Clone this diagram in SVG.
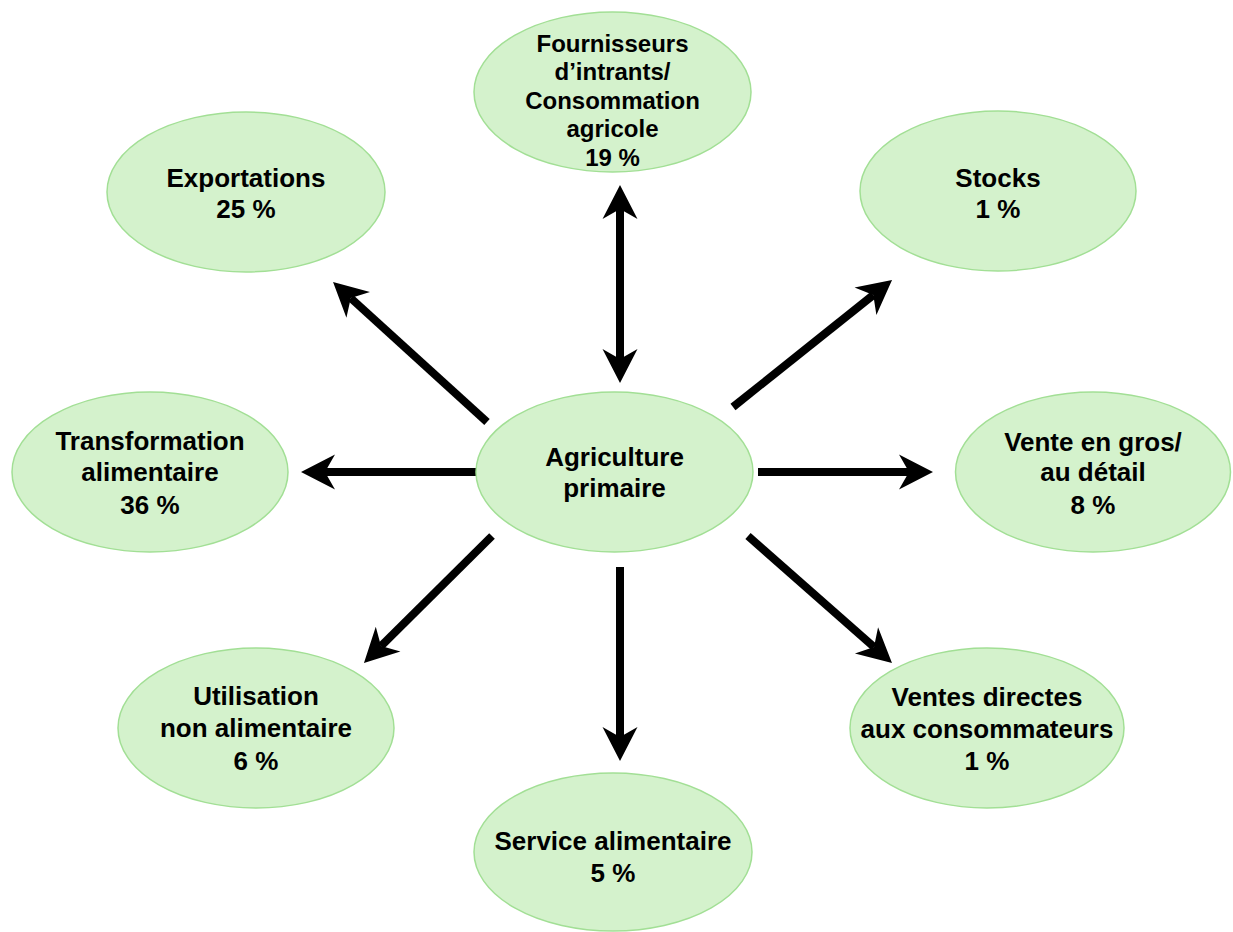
<svg xmlns="http://www.w3.org/2000/svg" width="1233" height="932" viewBox="0 0 1233 932">
<style>
.n{fill:#d4f2cc;stroke:#a2df95;stroke-width:1.5}
.t{font-family:"Liberation Sans",Arial,sans-serif;font-weight:bold;font-size:26px;fill:#000;text-anchor:middle}
.s{font-size:24px}
.c{stroke:#000;stroke-width:8;fill:none;marker-end:url(#ah)}
</style>
<defs>
<marker id="ah" markerUnits="userSpaceOnUse" orient="auto-start-reverse" refX="0" refY="0" markerWidth="40" markerHeight="40" overflow="visible">
<path d="M0,0 L-10,-17.5 L24,0 L-10,17.5 Z" fill="#000"/>
</marker>
</defs>
<rect width="1233" height="932" fill="#fff"/>
<g id="connectors">
<line class="c" x1="620" y1="209" x2="620" y2="359" marker-start="url(#ah)"/>
<line class="c" x1="620" y1="567" x2="620" y2="737"/>
<line class="c" x1="476" y1="472" x2="325" y2="472"/>
<line class="c" x1="758" y1="472" x2="909" y2="472"/>
<line class="c" x1="487" y1="422" x2="350.8" y2="298.1"/>
<line class="c" x1="733" y1="407" x2="873.3" y2="295"/>
<line class="c" x1="492" y1="536" x2="381" y2="646.1"/>
<line class="c" x1="748" y1="536" x2="874" y2="647.1"/>
</g>
<g id="center">
<ellipse class="n" cx="614.5" cy="472" rx="138.5" ry="80"/>
<text class="t" x="614.5" y="466">Agriculture</text>
<text class="t" x="614.5" y="497">primaire</text>
</g>
<g id="fournisseurs">
<ellipse class="n" cx="612.5" cy="92" rx="138.5" ry="80"/>
<text class="t s" x="612.5" y="52">Fournisseurs</text>
<text class="t s" x="612.5" y="80">d’intrants/</text>
<text class="t s" x="612.5" y="109">Consommation</text>
<text class="t s" x="612.5" y="137">agricole</text>
<text class="t s" x="612.5" y="166">19 %</text>
</g>
<g id="exportations">
<ellipse class="n" cx="246" cy="192" rx="139" ry="80"/>
<text class="t" x="246" y="187">Exportations</text>
<text class="t" x="246" y="218">25 %</text>
</g>
<g id="stocks">
<ellipse class="n" cx="998" cy="191" rx="138" ry="80"/>
<text class="t" x="998" y="187">Stocks</text>
<text class="t" x="998" y="218">1 %</text>
</g>
<g id="transformation">
<ellipse class="n" cx="150" cy="472" rx="138" ry="80"/>
<text class="t" x="150" y="450">Transformation</text>
<text class="t" x="150" y="481">alimentaire</text>
<text class="t" x="150" y="514">36 %</text>
</g>
<g id="vente">
<ellipse class="n" cx="1093" cy="472" rx="137.5" ry="80"/>
<text class="t" x="1093" y="451">Vente en gros/</text>
<text class="t" x="1093" y="481">au détail</text>
<text class="t" x="1093" y="514">8 %</text>
</g>
<g id="utilisation">
<ellipse class="n" cx="256" cy="728" rx="138" ry="80"/>
<text class="t" x="256" y="705">Utilisation</text>
<text class="t" x="256" y="737">non alimentaire</text>
<text class="t" x="256" y="770">6 %</text>
</g>
<g id="ventes-directes">
<ellipse class="n" cx="987" cy="728" rx="137" ry="80"/>
<text class="t" x="987" y="706">Ventes directes</text>
<text class="t" x="987" y="738">aux consommateurs</text>
<text class="t" x="987" y="770">1 %</text>
</g>
<g id="service">
<ellipse class="n" cx="613" cy="852" rx="139" ry="79"/>
<text class="t" x="613" y="850">Service alimentaire</text>
<text class="t" x="613" y="882">5 %</text>
</g>
</svg>
